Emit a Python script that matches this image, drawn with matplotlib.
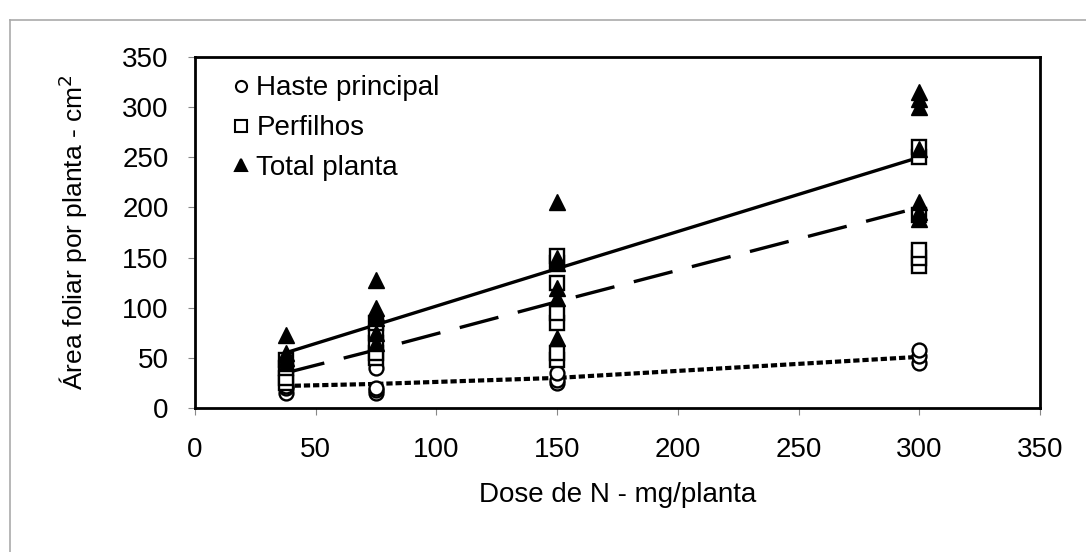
import matplotlib
matplotlib.use("Agg")
import matplotlib.pyplot as plt
from matplotlib.lines import Line2D

plt.rcParams['font.family'] = ['Liberation Sans', 'DejaVu Sans']

# doses de N (mg/planta) and the observed leaf area at each one
haste_x = [37.5] * 3 + [75] * 4 + [150] * 3 + [300] * 3
haste_y = [15, 20, 22, 15, 18, 20, 40, 25, 28, 35, 45, 52, 58]

perf_x = [37.5] * 4 + [75] * 5 + [150] * 7 + [300] * 6
perf_y = [25, 30, 40, 48, 50, 55, 65, 75, 85, 48, 55, 85, 95, 125, 145, 152,
          142, 150, 158, 192, 250, 260]

total_x = [37.5] * 4 + [75] * 6 + [150] * 6 + [300] * 7
total_y = [45, 50, 55, 73, 65, 75, 90, 95, 100, 128, 70, 110, 120, 145, 150, 205,
           188, 195, 205, 258, 300, 308, 315]

# fitted curves, read at each dose
fit_x = [37.5, 75, 150, 300]
fit_haste = [22, 24, 30, 51]
fit_perf = [35, 58, 106, 200]
fit_total = [55, 83, 139, 250]

xticks = [0, 50, 100, 150, 200, 250, 300, 350]
yticks = [0, 50, 100, 150, 200, 250, 300, 350]

fig = plt.figure(figsize=(10.86, 5.52), dpi=100)
ax = fig.add_axes([195 / 1086, 1 - 408 / 552, 845 / 1086, 351 / 552])

# outer frame of the picture
fig.add_artist(Line2D([10 / 1086, 10 / 1086], [0, 1 - 20 / 552], color='#aaaaaa', lw=1.2))
fig.add_artist(Line2D([10 / 1086, 1], [1 - 20 / 552, 1 - 20 / 552], color='#aaaaaa', lw=1.2))

ax.plot(fit_x, fit_total, color='black', lw=2.4, solid_capstyle='butt')
ax.plot(fit_x, fit_perf, color='black', lw=2.4, linestyle=(0, (12, 6)))
ax.plot(fit_x, fit_haste, color='black', lw=3.0, linestyle=(0, (1.5, 0.7)))

ax.plot(haste_x, haste_y, 'o', ms=10, mfc='white', mec='black', mew=1.7, ls='none',
        label='Haste principal')
ax.plot(perf_x, perf_y, 's', ms=10, mfc='white', mec='black', mew=1.7, ls='none',
        label='Perfilhos')
ax.plot(total_x, total_y, '^', ms=11, mfc='black', mec='black', ls='none',
        label='Total planta')

ax.set_xlim(0, 350)
ax.set_ylim(0, 350)
ax.set_xticks(xticks)
ax.set_yticks(yticks)
ax.tick_params(axis='both', labelsize=20, direction='out', length=5, color='#888888')
ax.tick_params(axis='x', pad=16)
ax.tick_params(axis='y', pad=14)
for s in ax.spines.values():
    s.set_linewidth(2)

ax.set_xlabel('Dose de N - mg/planta', fontsize=20)
ax.set_ylabel('Área foliar por planta - cm$^2$', fontsize=19)
ax.xaxis.set_label_coords(0.5, -0.248)
ax.yaxis.set_label_coords(-0.144, 0.5)
ax.xaxis.label.set_va('center')
ax.yaxis.label.set_va('center')

leg = ax.legend(loc='upper left', frameon=False, fontsize=20, handletextpad=0.1,
                handlelength=0.9, labelspacing=0.5, borderaxespad=0.2,
                bbox_to_anchor=(0.02, 0.995))
for h in leg.legend_handles:
    h.set_markersize(8)
    h.set_markeredgewidth(1.5)

fig.savefig('out.png', dpi=100)
